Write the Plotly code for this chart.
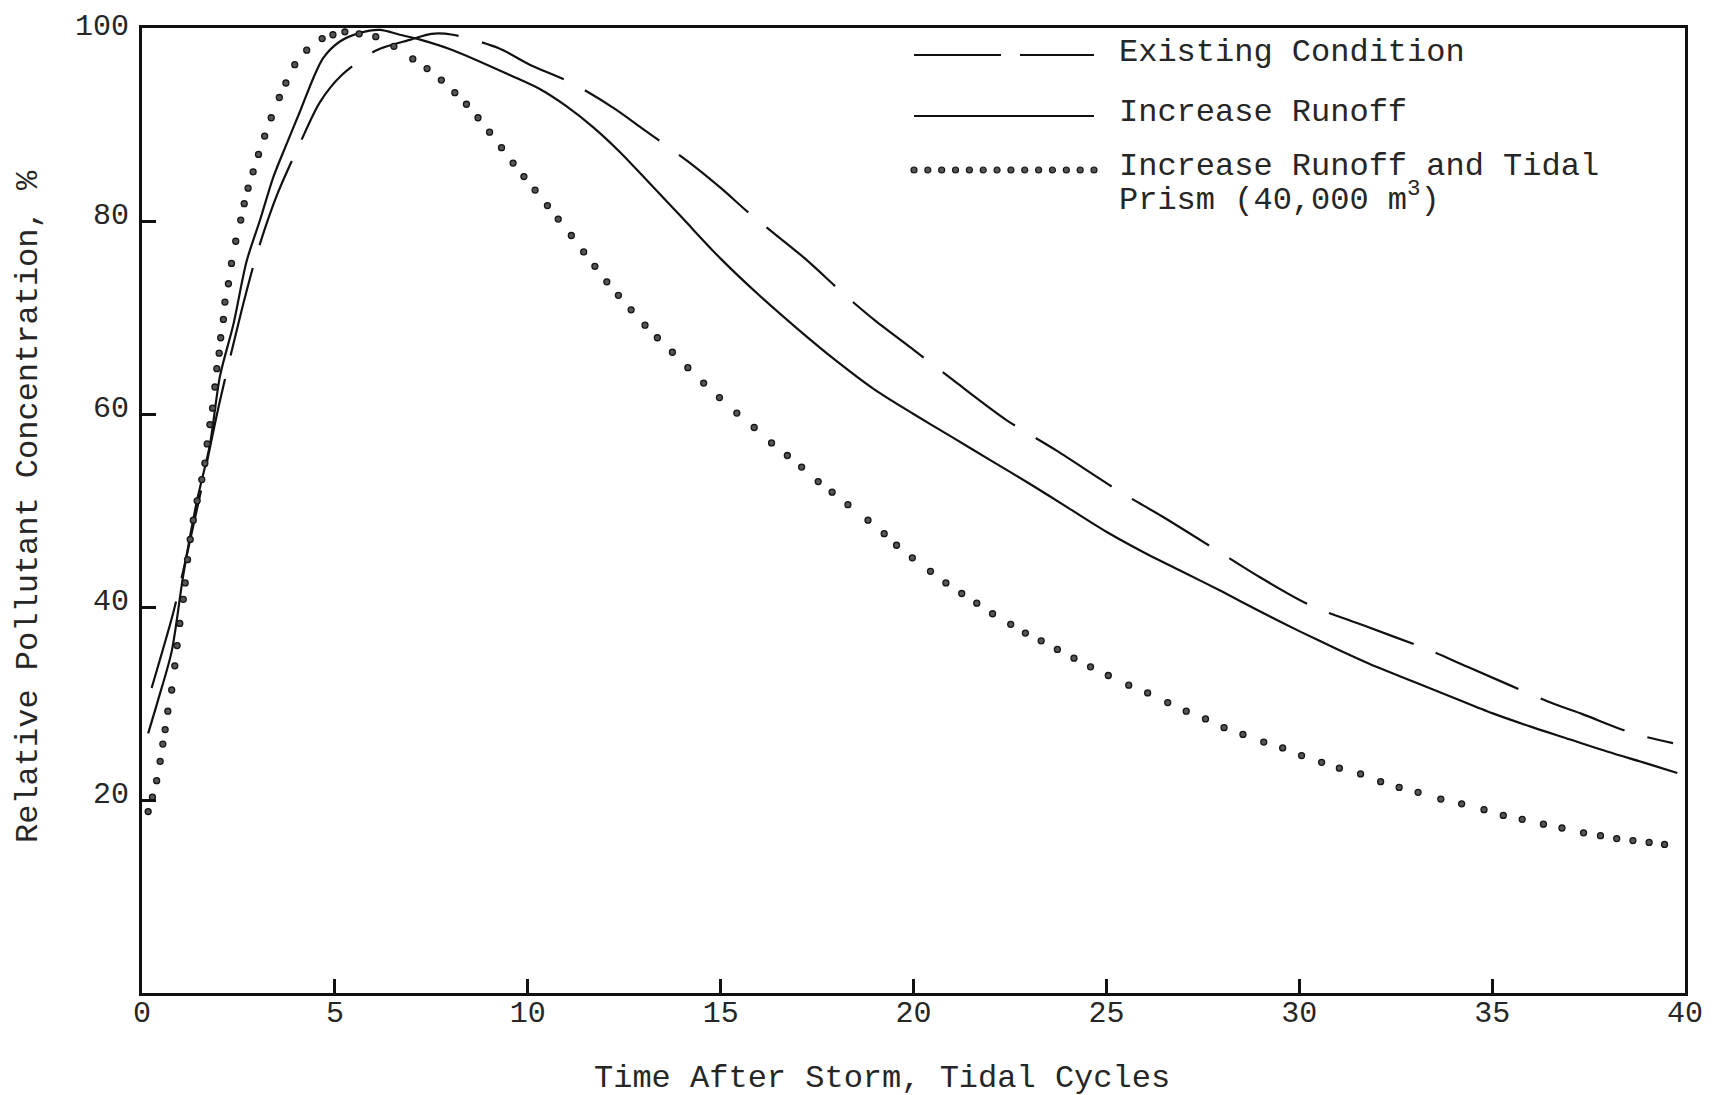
import plotly.graph_objects as go

# ---- data ----
existing_x = [0.25, 0.77, 0.98, 1.5, 2.0, 2.58, 3.0, 3.49, 4.1, 4.61, 5.2, 6.08, 6.97, 7.5, 8.06,
              9.25, 10.05, 11.14, 12.23, 13.0, 14.21, 15.01, 15.80, 17.19, 18.23, 19.0, 20.02,
              21.03, 22.40, 23.71, 25.37, 26.44, 27.85, 28.89, 30.27, 31.66, 33.39, 34.36,
              36.58, 37.34, 38.65, 39.69]
existing_y = [31.6, 38.8, 42.2, 51.5, 61.0, 70.7, 76.9, 82.6, 88.1, 92.3, 95.2, 97.7, 98.8, 99.4, 99.3,
              97.9, 96.2, 94.3, 91.7, 89.5, 86.0, 83.4, 80.6, 76.1, 72.3, 69.7, 66.6,
              63.5, 59.4, 56.2, 51.9, 49.4, 45.9, 43.3, 40.2, 38.1, 35.5, 33.8,
              30.0, 28.9, 26.9, 25.9]

runoff_x = [0.16, 0.42, 0.77, 1.07, 1.42, 1.76, 2.02, 2.37, 2.71, 3.06, 3.40, 3.75, 4.09, 4.44, 4.70,
            5.13, 5.65, 6.17, 6.68, 7.21, 8.06, 9.55, 10.3, 11.0, 11.7, 12.4, 13.02, 14.01, 15, 16,
            17, 18, 19, 20, 21, 22, 23, 24, 25, 26, 27, 28, 29, 30, 31, 32, 33, 34, 35, 36, 37, 38,
            39, 39.8]
runoff_y = [26.9, 30.4, 35.4, 43.3, 50.9, 56.8, 63.9, 69.3, 75.8, 80.1, 84.5, 88.0, 91.3, 94.8, 96.9,
            98.6, 99.5, 99.8, 99.3, 98.8, 97.7, 95.1, 93.7, 91.9, 89.7, 87.1, 84.5, 80.3, 76.1, 72.3,
            68.8, 65.5, 62.5, 60.0, 57.6, 55.2, 52.8, 50.3, 47.8, 45.6, 43.6, 41.6, 39.5, 37.5, 35.6,
            33.8, 32.2, 30.6, 29.0, 27.6, 26.3, 25.0, 23.8, 22.8]

tidal_x = [0.16, 0.27, 0.38, 0.47, 0.54, 0.60, 0.67, 0.77, 0.85, 0.91, 0.98, 1.07, 1.12, 1.18, 1.25,
           1.33, 1.43, 1.55, 1.63, 1.69, 1.76, 1.83, 1.89, 1.94, 2.00, 2.04, 2.11, 2.15, 2.24, 2.32,
           2.43, 2.56, 2.65, 2.75, 2.88, 3.02, 3.18, 3.35, 3.56, 3.73, 3.96, 4.27, 4.67, 4.95, 5.26,
           5.63, 6.06, 6.53, 7.02, 7.39, 7.76, 8.11, 8.41, 8.71, 9.01, 9.32, 9.62, 9.90, 10.19, 10.51,
           10.79, 11.13, 11.45, 11.74, 12.05, 12.35, 12.68, 13.04, 13.36, 13.75, 14.15, 14.56, 14.97,
           15.42, 15.87, 16.32, 16.73, 17.10, 17.53, 17.89, 18.30, 18.82, 19.24, 19.56, 19.97, 20.44,
           20.84, 21.25, 21.64, 22.05, 22.52, 22.90, 23.31, 23.73, 24.16, 24.59, 25.05, 25.58, 26.07,
           26.59, 27.07, 27.57, 28.05, 28.54, 29.08, 29.57, 30.06, 30.58, 31.04, 31.59, 32.11, 32.59,
           33.08, 33.67, 34.21, 34.79, 35.29, 35.78, 36.33, 36.81, 37.37, 37.81, 38.23, 38.65, 39.07,
           39.47]
tidal_y = [18.8, 20.3, 22.0, 24.0, 25.8, 27.3, 29.2, 31.4, 33.9, 36.0, 38.3, 40.8, 42.5, 44.9, 47.0,
           49.0, 51.0, 53.2, 54.9, 56.9, 58.9, 60.6, 62.8, 64.7, 66.3, 67.9, 69.8, 71.6, 73.5, 75.6,
           77.9, 80.1, 81.8, 83.4, 85.1, 86.9, 88.8, 90.7, 92.8, 94.3, 96.2, 97.7, 98.9, 99.3, 99.6,
           99.4, 99.1, 98.1, 96.8, 95.8, 94.6, 93.3, 92.1, 90.7, 89.2, 87.6, 86.0, 84.6, 83.2, 81.6,
           80.2, 78.5, 76.8, 75.3, 73.7, 72.3, 70.8, 69.2, 67.9, 66.4, 64.8, 63.2, 61.7,
           60.1, 58.6, 57.0, 55.7, 54.5, 53.0, 51.9, 50.6, 49.0, 47.6, 46.4, 45.1, 43.7,
           42.5, 41.4, 40.4, 39.3, 38.2, 37.3, 36.5, 35.6, 34.7, 33.8, 32.9, 31.9, 31.1,
           30.1, 29.2, 28.4, 27.5, 26.8, 26.0, 25.4, 24.6, 23.9, 23.3, 22.7, 21.9, 21.3,
           20.8, 20.1, 19.6, 19.0, 18.4, 18.0, 17.5, 17.1, 16.6, 16.3, 16.0, 15.8, 15.6,
           15.4]

x_ticks = [0, 5, 10, 15, 20, 25, 30, 35, 40]
y_ticks = [20, 40, 60, 80, 100]

legend_labels = ["Existing Condition", "Increase Runoff",
                 "Increase Runoff and Tidal", "Prism (40,000 m<sup>3</sup>)"]
x_title = "Time After Storm, Tidal Cycles"
y_title = "Relative Pollutant Concentration, %"

# ---- figure ----
FONT = "Liberation Mono, Courier New, monospace"
INK = "#111111"
TXT = "#262626"

fig = go.Figure()
fig.add_trace(go.Scatter(x=existing_x, y=existing_y, mode="lines",
                         line=dict(color=INK, width=2.2, dash="90px,24px", shape="spline", smoothing=0.8),
                         showlegend=False, hoverinfo="skip"))
fig.add_trace(go.Scatter(x=runoff_x, y=runoff_y, mode="lines",
                         line=dict(color=INK, width=2.2, shape="spline", smoothing=0.8),
                         showlegend=False, hoverinfo="skip"))
fig.add_trace(go.Scatter(x=tidal_x, y=tidal_y, mode="markers",
                         marker=dict(size=6, color="#555555", line=dict(color="#141414", width=1.3)),
                         showlegend=False, hoverinfo="skip"))

axis_common = dict(showgrid=False, zeroline=False, showline=True, linecolor=INK, linewidth=2.6,
                   mirror=True, ticks="inside", ticklen=14, tickwidth=2.6, tickcolor=INK,
                   tickfont=dict(family=FONT, size=30, color=TXT))

fig.update_xaxes(range=[0, 40], tickvals=x_ticks, ticktext=[str(v) for v in x_ticks],
                 ticklabelstandoff=-10, **axis_common)
fig.update_yaxes(range=[0, 100], tickvals=y_ticks, showticklabels=False, **axis_common)

W, H = 1720, 1095
OFF = 8  # page body margin of the written html
# plot box in page pixels
PL, PT, PR, PB = 142, 28, 1685, 993
L, T = PL - OFF, PT - OFF
R, B = W - (PR - OFF), H - (PB - OFF)
pw, ph = PR - PL, PB - PT


def px(xp):
    return (xp - PL) / pw


def py(yp):
    return (PB - yp) / ph


shapes = []
# legend keys
shapes.append(dict(type="line", xref="paper", yref="paper", x0=px(914), x1=px(1001), y0=py(55), y1=py(55),
                   line=dict(color=INK, width=2.2)))
shapes.append(dict(type="line", xref="paper", yref="paper", x0=px(1020), x1=px(1094), y0=py(55), y1=py(55),
                   line=dict(color=INK, width=2.2)))
shapes.append(dict(type="line", xref="paper", yref="paper", x0=px(914), x1=px(1094), y0=py(116), y1=py(116),
                   line=dict(color=INK, width=2.2)))
for i in range(14):
    cx = 914 + i * 180 / 13
    cy = 170
    shapes.append(dict(type="circle", xref="paper", yref="paper",
                       x0=px(cx - 3.0), x1=px(cx + 3.0), y0=py(cy + 3.0), y1=py(cy - 3.0),
                       fillcolor="#555555", line=dict(color="#141414", width=1.2)))

annotations = []
# y tick labels (sit slightly above their ticks, as typed on the original)
for v in y_ticks:
    annotations.append(dict(text=str(v), xref="paper", yref="y", x=px(131), y=v,
                            yshift=5 if v < 100 else 1,
                            xanchor="right", yanchor="middle", showarrow=False,
                            font=dict(family=FONT, size=30, color=TXT)))
# legend texts
for lab, yy in zip(legend_labels[:2], [52, 112]):
    annotations.append(dict(text=lab, xref="paper", yref="paper", x=px(1117), y=py(yy),
                            xanchor="left", yanchor="middle", showarrow=False, align="left",
                            font=dict(family=FONT, size=32, color=TXT)))
two_line = ('<span style="font-size:32px">' + legend_labels[2] + '</span><br>'
            '<span style="font-size:32px">' + legend_labels[3] + '</span>')
annotations.append(dict(text=two_line, xref="paper", yref="paper", x=px(1117), y=py(184),
                        xanchor="left", yanchor="middle", showarrow=False, align="left",
                        font=dict(family=FONT, size=26, color=TXT)))
annotations.append(dict(text=x_title, xref="paper", yref="paper", x=px(882), y=py(1078),
                        xanchor="center", yanchor="middle", showarrow=False,
                        font=dict(family=FONT, size=32, color=TXT)))
annotations.append(dict(text=y_title, xref="paper", yref="paper", x=px(28), y=py(507),
                        xanchor="center", yanchor="middle", showarrow=False, textangle=-90,
                        font=dict(family=FONT, size=32, color=TXT)))

fig.update_layout(width=W, height=H, margin=dict(l=L, r=R, t=T, b=B),
                  paper_bgcolor="white", plot_bgcolor="white",
                  shapes=shapes, annotations=annotations, showlegend=False)

fig.write_html("out.html")
